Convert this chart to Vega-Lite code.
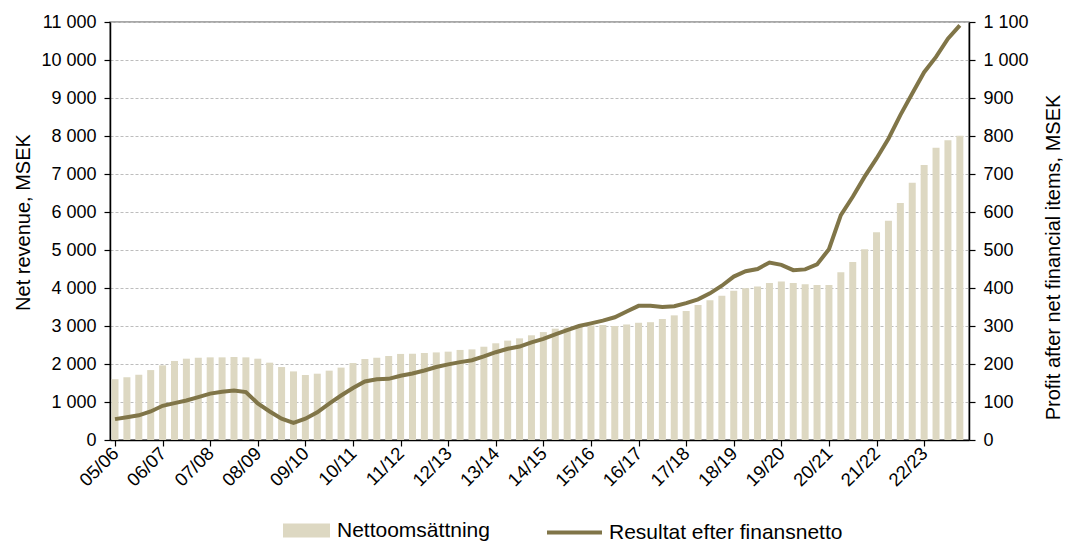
{
  "$schema": "https://vega.github.io/schema/vega-lite/v6.json",
  "width": 859,
  "height": 418,
  "autosize": {"type": "none"},
  "padding": {"left": 110, "top": 22, "right": 100, "bottom": 102},
  "background": "white",
  "config": {
    "font": "Liberation Sans",
    "view": {"stroke": "#8c8c8c", "strokeWidth": 1.5},
    "axis": {
      "labelFont": "Liberation Sans",
      "titleFont": "Liberation Sans",
      "labelColor": "#000000",
      "titleColor": "#000000",
      "titleFontWeight": "normal",
      "domainColor": "#000000",
      "tickColor": "#000000",
      "domainWidth": 1.5,
      "tickWidth": 1.2
    },
    "legend": {
      "labelFont": "Liberation Sans",
      "labelColor": "#000000",
      "labelFontSize": 21,
      "labelLimit": 0,
      "padding": 0
    }
  },
  "data": {
    "values": [
      {"q": 0, "rev": 1600, "res": 55},
      {"q": 1, "rev": 1650, "res": 60},
      {"q": 2, "rev": 1720, "res": 65},
      {"q": 3, "rev": 1840, "res": 75},
      {"q": 4, "rev": 1965, "res": 90},
      {"q": 5, "rev": 2080, "res": 97},
      {"q": 6, "rev": 2140, "res": 104},
      {"q": 7, "rev": 2165, "res": 113},
      {"q": 8, "rev": 2175, "res": 122},
      {"q": 9, "rev": 2175, "res": 127},
      {"q": 10, "rev": 2185, "res": 130},
      {"q": 11, "rev": 2175, "res": 126},
      {"q": 12, "rev": 2140, "res": 96},
      {"q": 13, "rev": 2035, "res": 75},
      {"q": 14, "rev": 1920, "res": 56},
      {"q": 15, "rev": 1805, "res": 45},
      {"q": 16, "rev": 1710, "res": 56},
      {"q": 17, "rev": 1745, "res": 73},
      {"q": 18, "rev": 1825, "res": 96},
      {"q": 19, "rev": 1905, "res": 117},
      {"q": 20, "rev": 2025, "res": 137},
      {"q": 21, "rev": 2130, "res": 154},
      {"q": 22, "rev": 2165, "res": 160},
      {"q": 23, "rev": 2210, "res": 161},
      {"q": 24, "rev": 2265, "res": 169},
      {"q": 25, "rev": 2270, "res": 175},
      {"q": 26, "rev": 2290, "res": 183},
      {"q": 27, "rev": 2305, "res": 192},
      {"q": 28, "rev": 2325, "res": 199},
      {"q": 29, "rev": 2370, "res": 205},
      {"q": 30, "rev": 2385, "res": 210},
      {"q": 31, "rev": 2455, "res": 220},
      {"q": 32, "rev": 2545, "res": 231},
      {"q": 33, "rev": 2615, "res": 240},
      {"q": 34, "rev": 2675, "res": 246},
      {"q": 35, "rev": 2755, "res": 257},
      {"q": 36, "rev": 2840, "res": 266},
      {"q": 37, "rev": 2930, "res": 278},
      {"q": 38, "rev": 2960, "res": 289},
      {"q": 39, "rev": 2990, "res": 300},
      {"q": 40, "rev": 3015, "res": 307},
      {"q": 41, "rev": 3025, "res": 314},
      {"q": 42, "rev": 3000, "res": 323},
      {"q": 43, "rev": 3040, "res": 338},
      {"q": 44, "rev": 3085, "res": 353},
      {"q": 45, "rev": 3100, "res": 353},
      {"q": 46, "rev": 3185, "res": 350},
      {"q": 47, "rev": 3280, "res": 352},
      {"q": 48, "rev": 3395, "res": 360},
      {"q": 49, "rev": 3555, "res": 370},
      {"q": 50, "rev": 3675, "res": 386},
      {"q": 51, "rev": 3795, "res": 406},
      {"q": 52, "rev": 3925, "res": 430},
      {"q": 53, "rev": 3995, "res": 444},
      {"q": 54, "rev": 4040, "res": 450},
      {"q": 55, "rev": 4130, "res": 467},
      {"q": 56, "rev": 4170, "res": 461},
      {"q": 57, "rev": 4130, "res": 447},
      {"q": 58, "rev": 4100, "res": 449},
      {"q": 59, "rev": 4080, "res": 462},
      {"q": 60, "rev": 4080, "res": 502},
      {"q": 61, "rev": 4415, "res": 592},
      {"q": 62, "rev": 4685, "res": 640},
      {"q": 63, "rev": 5020, "res": 693},
      {"q": 64, "rev": 5470, "res": 741},
      {"q": 65, "rev": 5770, "res": 793},
      {"q": 66, "rev": 6235, "res": 855},
      {"q": 67, "rev": 6770, "res": 912},
      {"q": 68, "rev": 7240, "res": 968},
      {"q": 69, "rev": 7690, "res": 1008},
      {"q": 70, "rev": 7890, "res": 1056},
      {"q": 71, "rev": 8005, "res": 1091}
    ]
  },
  "encoding": {
    "x": {
      "field": "q",
      "type": "quantitative",
      "scale": {"domain": [0, 71.35], "nice": false, "zero": false},
      "axis": {
        "title": null,
        "grid": false,
        "values": [0, 4, 8, 12, 16, 20, 24, 28, 32, 36, 40, 44, 48, 52, 56, 60, 64, 68],
        "labelExpr": "(datum.value/4+5<10?'0':'')+(datum.value/4+5)+'/'+(datum.value/4+6<10?'0':'')+(datum.value/4+6)",
        "labelAngle": -45,
        "labelAlign": "right",
        "labelBaseline": "middle",
        "labelFontSize": 18.5,
        "labelPadding": 4,
        "labelDx": -8,
        "labelDy": 5,
        "labelOverlap": false,
        "labelFlush": false,
        "tickSize": 6
      }
    }
  },
  "layer": [
    {
      "mark": {"type": "bar", "orient": "vertical", "size": 7, "clip": true},
      "encoding": {
        "y": {
          "field": "rev",
          "type": "quantitative",
          "stack": null,
          "scale": {"domain": [0, 11000], "nice": false},
          "axis": {
            "orient": "left",
            "title": "Net revenue, MSEK",
            "titleFontSize": 20,
            "titlePadding": 7,
            "titleY": 200,
            "values": [0, 1000, 2000, 3000, 4000, 5000, 6000, 7000, 8000, 9000, 10000, 11000],
            "labelExpr": "replace(format(datum.value, ','), ',', ' ')",
            "labelFontSize": 18,
            "labelPadding": 8,
            "tickSize": 6,
            "grid": true,
            "gridColor": "#bdbdbd",
            "gridDash": [3, 2],
            "gridWidth": 1
          }
        },
        "color": {
          "datum": "Nettoomsättning",
          "scale": {"range": ["#ddd8c2"]},
          "legend": {
            "title": null,
            "orient": "none",
            "legendX": 173,
            "legendY": 485,
            "symbolType": "M-1,-0.3H1V0.3H-1Z",
            "symbolSize": 2209,
            "symbolStrokeWidth": 0,
            "labelOffset": 7
          }
        }
      }
    },
    {
      "mark": {"type": "line", "strokeWidth": 4, "clip": true},
      "encoding": {
        "y": {
          "field": "res",
          "type": "quantitative",
          "scale": {"domain": [0, 1100], "nice": false},
          "axis": {
            "orient": "right",
            "title": "Profit after net financial items, MSEK",
            "titleFontSize": 20,
            "titleAngle": 270,
            "titleX": 84,
            "titleY": 235,
            "titleAlign": "center",
            "titleBaseline": "middle",
            "values": [0, 100, 200, 300, 400, 500, 600, 700, 800, 900, 1000, 1100],
            "labelExpr": "replace(format(datum.value, ','), ',', ' ')",
            "labelFontSize": 18,
            "labelPadding": 8,
            "tickSize": 6,
            "grid": false
          }
        },
        "stroke": {
          "datum": "Resultat efter finansnetto",
          "scale": {"range": ["#807548"]},
          "legend": {
            "title": null,
            "orient": "none",
            "legendX": 435,
            "legendY": 481,
            "symbolType": "stroke",
            "symbolSize": 3025,
            "symbolStrokeWidth": 4,
            "labelOffset": 5
          }
        }
      }
    }
  ],
  "resolve": {"scale": {"y": "independent"}}
}
